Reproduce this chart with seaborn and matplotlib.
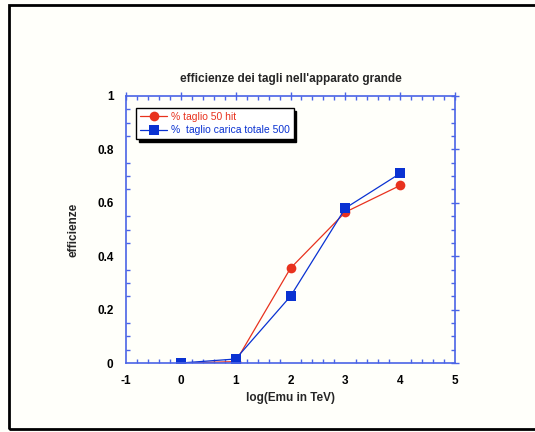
import matplotlib
matplotlib.use("Agg")
import matplotlib.pyplot as plt
import seaborn as sns
import pandas as pd
from matplotlib.patches import Rectangle
from matplotlib.ticker import MultipleLocator

log_e = [0, 1, 2, 3, 4]
hit50 = [0.0, 0.005, 0.355, 0.565, 0.665]
carica500 = [0.0, 0.015, 0.25, 0.58, 0.71]
label_hit = "% taglio 50 hit"
label_car = "%  taglio carica totale 500"
ytick_vals = [0, 0.2, 0.4, 0.6, 0.8, 1]
ytick_labels = ['0', '0.2', '0.4', '0.6', '0.8', '1']

sns.set_theme(style="white")
plt.rcParams['font.family'] = ['Liberation Sans', 'DejaVu Sans']
plt.rcParams['axes.unicode_minus'] = False

bg = '#fffffa'
red = '#e8321e'
blue = '#0a32d2'
axc = '#4a64e6'

fig = plt.figure(figsize=(5.35, 4.32), dpi=100, facecolor=bg)
ax = fig.add_axes([126/535, 1-363/432, (455-126)/535, (363-96)/432])
ax.set_facecolor(bg)

df1 = pd.DataFrame({"x": log_e, "y": hit50})
df2 = pd.DataFrame({"x": log_e, "y": carica500})
sns.lineplot(data=df1, x="x", y="y", ax=ax, color=red, marker='o', markersize=7,
             markeredgewidth=0, linewidth=0.9, label=label_hit)
sns.lineplot(data=df2, x="x", y="y", ax=ax, color=blue, marker='s', markersize=6.5,
             markeredgewidth=0, linewidth=0.9, label=label_car)

ax.set_xlim(-1, 5)
ax.set_ylim(0, 1)
ax.xaxis.set_major_locator(MultipleLocator(1))
ax.xaxis.set_minor_locator(MultipleLocator(0.2))
ax.yaxis.set_minor_locator(MultipleLocator(0.05))
ax.set_yticks(ytick_vals)
ax.set_yticklabels(ytick_labels)

for s in ax.spines.values():
    s.set_color(axc)
    s.set_linewidth(1.2)
ax.tick_params(which='major', direction='inout', length=6, width=1, color=axc,
               top=True, right=True, labelsize=8.5, labelcolor='black', pad=6)
ax.tick_params(which='minor', direction='in', length=3, width=1, color=axc,
               top=True, right=True, bottom=True, left=True)
for lab in ax.get_xticklabels() + ax.get_yticklabels():
    lab.set_fontweight('bold')

ax.set_xlabel("log(Emu in TeV)", fontsize=8.5, fontweight='bold', labelpad=3)
ax.set_ylabel("efficienze", fontsize=8.5, fontweight='bold', labelpad=13)
ax.set_title("efficienze dei tagli nell'apparato grande", fontsize=8.5,
             fontweight='bold', pad=10)

leg = ax.legend(loc='upper left', bbox_to_anchor=(0.015, 0.975), fontsize=7.5,
                frameon=True, fancybox=False, shadow={'color': 'black', 'alpha': 1},
                handlelength=2.6, borderpad=0.4, labelspacing=0.3, handletextpad=0.3)
leg.get_frame().set_edgecolor('black')
leg.get_frame().set_linewidth(1)
leg.get_frame().set_facecolor('white')
for txt, c in zip(leg.get_texts(), [red, blue]):
    txt.set_color(c)

fig.patches.append(Rectangle((9/535, 1-429/432), 1.2, (429-5)/432, transform=fig.transFigure,
                             fill=False, edgecolor='black', linewidth=2))

fig.savefig("out.png", dpi=100, facecolor=bg)
